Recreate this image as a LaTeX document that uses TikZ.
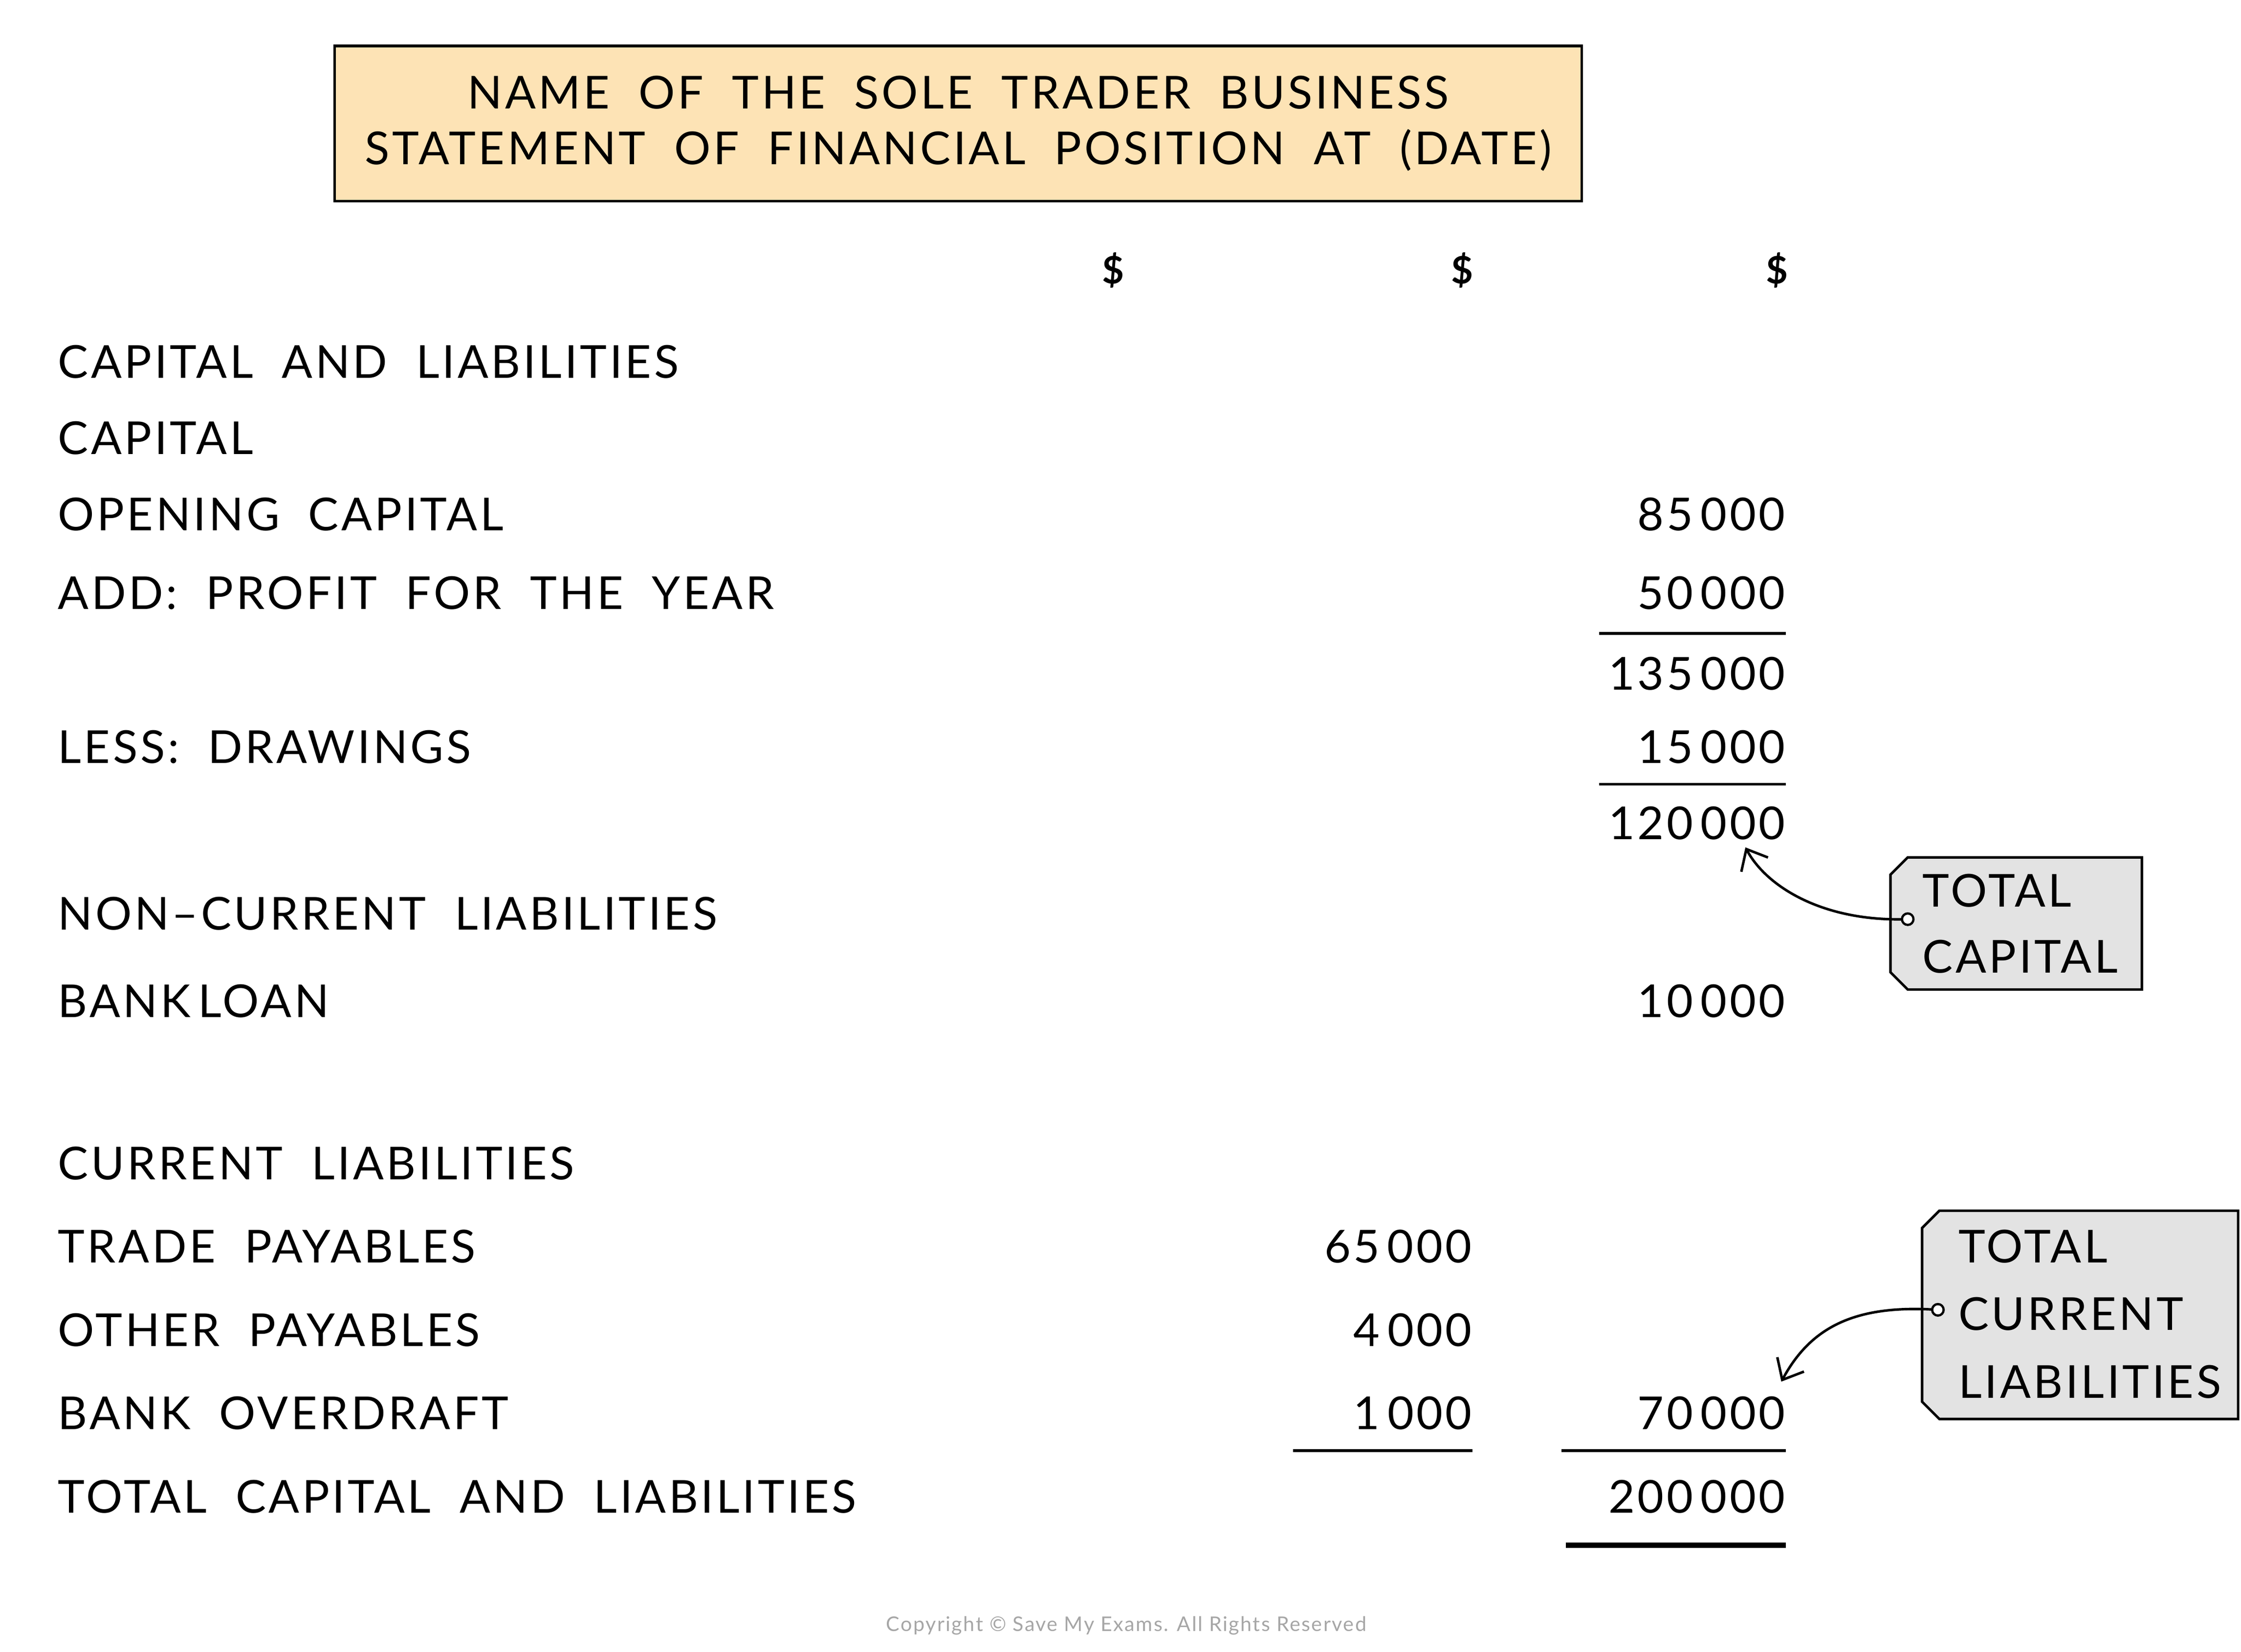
\documentclass[tikz,border=0pt]{standalone}
\usepackage{fontspec}
\setmainfont{Lato}[LetterSpace=6]
\usetikzlibrary{arrows.meta}
\definecolor{titlefill}{HTML}{FDE3B5}
\definecolor{tagfill}{HTML}{E3E3E3}
\begin{document}
\begin{tikzpicture}[x=0.02cm,y=-0.02cm,
  lab/.style={anchor=west,inner sep=0pt,font=\fontsize{18}{21}\selectfont},
  num/.style={anchor=east,inner sep=0pt,font=\fontsize{18}{21}\selectfont},
  rule/.style={line width=1.1pt},
  tag/.style={draw=black,line width=1pt,fill=tagfill},
  arr/.style={line width=1pt,-{Straight Barb[length=7pt,width=12pt]}}]
\useasboundingbox (0,0) rectangle (1560,1150);
\node[draw,line width=1pt,fill=titlefill,minimum width=868*0.02cm,minimum height=108*0.02cm,align=center,font=\fontsize{18}{22}\selectfont] (title) at (667,86) {NAME\ \ OF\ \ THE\ \ SOLE\ \ TRADER\ \ BUSINESS\\STATEMENT\ \ OF\ \ FINANCIAL\ \ POSITION\ \ AT\ \ (DATE)};
\node[font=\fontsize{15}{18}\selectfont\bfseries] (d1) at (775,188) {\$};
\node[font=\fontsize{15}{18}\selectfont\bfseries] (d2) at (1018,188) {\$};
\node[font=\fontsize{15}{18}\selectfont\bfseries] (d3) at (1237,188) {\$};
\node[lab] (l1) at (40,252) {CAPITAL\ \ AND\ \ LIABILITIES};
\node[lab] (l2) at (40,305) {CAPITAL};
\node[lab] (l3) at (40,358) {OPENING\ \ CAPITAL};
\node[lab] (l4) at (40,413) {ADD:\ \ PROFIT\ \ FOR\ \ THE\ \ YEAR};
\node[lab] (l5) at (40,520) {LESS:\ \ DRAWINGS};
\node[lab] (l6) at (40,636) {NON--CURRENT\ \ LIABILITIES};
\node[lab] (l7) at (40,697) {BANK\,LOAN};
\node[lab] (l8) at (40,810) {CURRENT\ \ LIABILITIES};
\node[lab] (l9) at (40,868) {TRADE\ \ PAYABLES};
\node[lab] (l10) at (40,926) {OTHER\ \ PAYABLES};
\node[lab] (l11) at (40,984) {BANK\ \ OVERDRAFT};
\node[lab] (l12) at (40,1042) {TOTAL\ \ CAPITAL\ \ AND\ \ LIABILITIES};
\node[num] (n1) at (1243,358) {85\,000};
\node[num] (n2) at (1243,413) {50\,000};
\node[num] (n3) at (1243,469) {135\,000};
\node[num] (n4) at (1243,520) {15\,000};
\node[num] (n5) at (1243,573) {120\,000};
\node[num] (n6) at (1243,697) {10\,000};
\node[num] (n7) at (1243,984) {70\,000};
\node[num] (n8) at (1243,1042) {200\,000};
\node[num] (m1) at (1025,868) {65\,000};
\node[num] (m2) at (1025,926) {4\,000};
\node[num] (m3) at (1025,984) {1\,000};
\draw[rule] (1113,441) -- (1243,441);
\draw[rule] (1113,546) -- (1243,546);
\draw[rule] (900,1010) -- (1025,1010);
\draw[rule] (1087,1010) -- (1243,1010);
\draw[line width=2.2pt] (1090,1076) -- (1243,1076);
% tag 1
\draw[tag] (1328,597) -- (1491,597) -- (1491,689) -- (1328,689) -- (1316,677) -- (1316,609) -- cycle;
\coordinate (h1) at (1328,640);
\coordinate (t1) at (1215,590);
\draw[arr] (h1) .. controls (1270,642) and (1230,618) .. (t1);
\draw[fill=white,line width=0.9pt] (h1) circle (4);
\node[lab] (tg1a) at (1338,620) {TOTAL};
\node[lab] (tg1b) at (1338,666) {CAPITAL};
% tag 2
\draw[tag] (1350,843) -- (1558,843) -- (1558,988) -- (1350,988) -- (1338,976) -- (1338,855) -- cycle;
\coordinate (h2) at (1349,912);
\coordinate (t2) at (1240,962);
\draw[arr] (h2) .. controls (1290,908) and (1260,925) .. (t2);
\draw[fill=white,line width=0.9pt] (h2) circle (4);
\node[lab] (tg2a) at (1363,868) {TOTAL};
\node[lab] (tg2b) at (1363,915) {CURRENT};
\node[lab] (tg2c) at (1363,962) {LIABILITIES};
\node[text=black!35,font=\fontsize{8}{10}\selectfont] (copy) at (784,1132) {Copyright © Save My Exams. All Rights Reserved};
\end{tikzpicture}
\end{document}
